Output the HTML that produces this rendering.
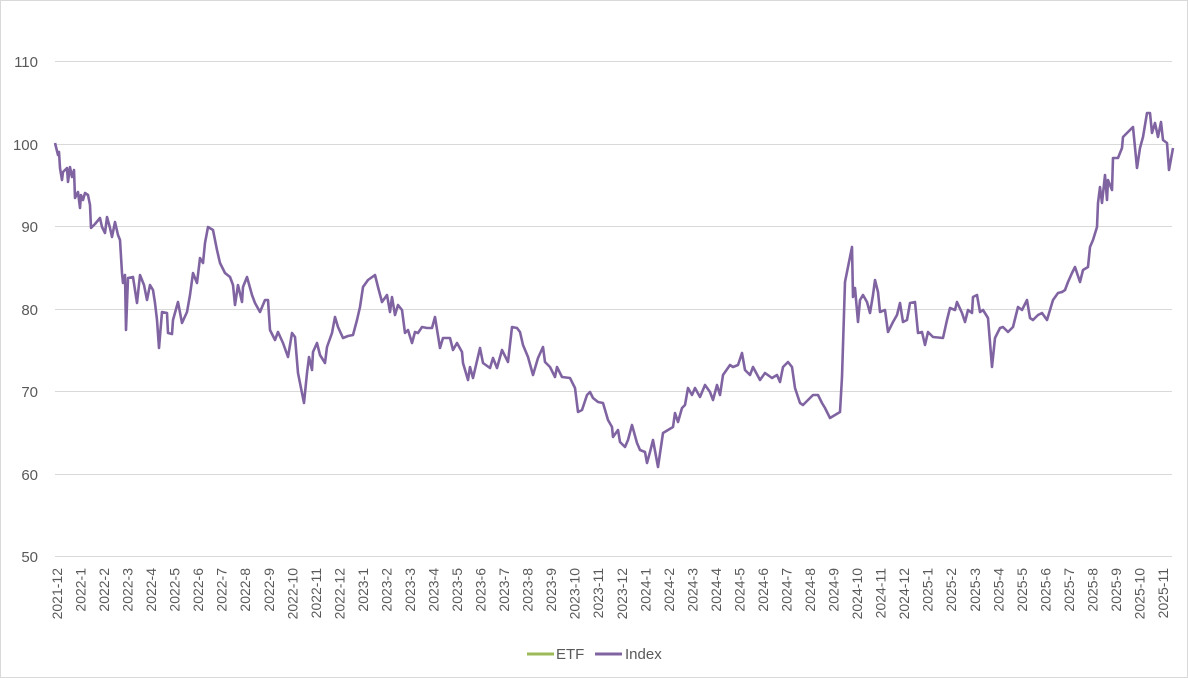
<!DOCTYPE html>
<html><head><meta charset="utf-8"><style>
html,body{margin:0;padding:0;background:#fff;}
svg{display:block;font-family:"Liberation Sans",sans-serif;}
</style></head><body>
<svg width="1188" height="678" viewBox="0 0 1188 678" xmlns="http://www.w3.org/2000/svg">
<rect x="0.5" y="0.5" width="1187" height="677" fill="#fff" stroke="#d9d9d9"/>
<g stroke="#d9d9d9" stroke-width="1">
<line x1="55" x2="1172" y1="61.5" y2="61.5"/>
<line x1="55" x2="1172" y1="144.5" y2="144.5"/>
<line x1="55" x2="1172" y1="226.5" y2="226.5"/>
<line x1="55" x2="1172" y1="309.5" y2="309.5"/>
<line x1="55" x2="1172" y1="391.5" y2="391.5"/>
<line x1="55" x2="1172" y1="474.5" y2="474.5"/>
<line x1="55" x2="1172" y1="556.5" y2="556.5"/>
</g>
<g fill="#595959" font-size="15" text-anchor="end">
<text x="38" y="67">110</text>
<text x="38" y="150">100</text>
<text x="38" y="232">90</text>
<text x="38" y="315">80</text>
<text x="38" y="397">70</text>
<text x="38" y="480">60</text>
<text x="38" y="562">50</text>
</g>
<g fill="#595959" font-size="14" text-anchor="end">
<text transform="translate(62,568) rotate(-90)">2021-12</text>
<text transform="translate(85.5,568) rotate(-90)">2022-1</text>
<text transform="translate(109,568) rotate(-90)">2022-2</text>
<text transform="translate(132.6,568) rotate(-90)">2022-3</text>
<text transform="translate(156.1,568) rotate(-90)">2022-4</text>
<text transform="translate(179.7,568) rotate(-90)">2022-5</text>
<text transform="translate(203.2,568) rotate(-90)">2022-6</text>
<text transform="translate(226.7,568) rotate(-90)">2022-7</text>
<text transform="translate(250.2,568) rotate(-90)">2022-8</text>
<text transform="translate(273.8,568) rotate(-90)">2022-9</text>
<text transform="translate(297.3,568) rotate(-90)">2022-10</text>
<text transform="translate(320.8,568) rotate(-90)">2022-11</text>
<text transform="translate(344.4,568) rotate(-90)">2022-12</text>
<text transform="translate(367.9,568) rotate(-90)">2023-1</text>
<text transform="translate(391.4,568) rotate(-90)">2023-2</text>
<text transform="translate(415,568) rotate(-90)">2023-3</text>
<text transform="translate(438.5,568) rotate(-90)">2023-4</text>
<text transform="translate(462,568) rotate(-90)">2023-5</text>
<text transform="translate(485.6,568) rotate(-90)">2023-6</text>
<text transform="translate(509.1,568) rotate(-90)">2023-7</text>
<text transform="translate(532.6,568) rotate(-90)">2023-8</text>
<text transform="translate(556.2,568) rotate(-90)">2023-9</text>
<text transform="translate(579.7,568) rotate(-90)">2023-10</text>
<text transform="translate(603.2,568) rotate(-90)">2023-11</text>
<text transform="translate(626.8,568) rotate(-90)">2023-12</text>
<text transform="translate(650.3,568) rotate(-90)">2024-1</text>
<text transform="translate(673.8,568) rotate(-90)">2024-2</text>
<text transform="translate(697.4,568) rotate(-90)">2024-3</text>
<text transform="translate(720.9,568) rotate(-90)">2024-4</text>
<text transform="translate(744.4,568) rotate(-90)">2024-5</text>
<text transform="translate(768,568) rotate(-90)">2024-6</text>
<text transform="translate(791.5,568) rotate(-90)">2024-7</text>
<text transform="translate(815,568) rotate(-90)">2024-8</text>
<text transform="translate(838.6,568) rotate(-90)">2024-9</text>
<text transform="translate(862.1,568) rotate(-90)">2024-10</text>
<text transform="translate(885.6,568) rotate(-90)">2024-11</text>
<text transform="translate(909.2,568) rotate(-90)">2024-12</text>
<text transform="translate(932.7,568) rotate(-90)">2025-1</text>
<text transform="translate(956.2,568) rotate(-90)">2025-2</text>
<text transform="translate(979.8,568) rotate(-90)">2025-3</text>
<text transform="translate(1003.3,568) rotate(-90)">2025-4</text>
<text transform="translate(1026.8,568) rotate(-90)">2025-5</text>
<text transform="translate(1050.4,568) rotate(-90)">2025-6</text>
<text transform="translate(1073.9,568) rotate(-90)">2025-7</text>
<text transform="translate(1097.4,568) rotate(-90)">2025-8</text>
<text transform="translate(1121,568) rotate(-90)">2025-9</text>
<text transform="translate(1144.5,568) rotate(-90)">2025-10</text>
<text transform="translate(1168,568) rotate(-90)">2025-11</text>
</g>
<polyline fill="none" stroke="#8064A2" stroke-width="2.6" stroke-linejoin="round" points="55,143 58,155 59,152 60,168 62,180 63,172 65,170 67,168 68,182 70,167 72,177 74,170 75,198 78,192 80,208 81,195 83,200 85,193 88,195 90,205 91,228 95,224 100,218 102,227 105,233 107,217 110,228 112,237 115,222 118,235 120,240 122,273 123,283 125,275 126,330 128,278 133,277 135,290 137,303 140,275 144,285 147,300 150,285 153,290 155,303 157,320 159,348 162,312 167,313 168,333 172,334 173,320 178,302 182,323 187,312 190,295 193,273 197,283 200,258 203,263 205,243 208,227 213,230 217,250 220,263 225,273 230,277 233,285 235,305 238,285 242,302 243,287 247,277 252,295 255,303 260,312 265,300 268,300 270,330 275,340 278,332 283,343 288,357 292,333 295,337 298,373 302,393 304,403 307,373 309,357 312,370 313,352 317,343 320,355 325,363 327,347 332,333 335,317 338,327 343,338 348,336 353,335 357,320 360,307 363,287 368,280 375,275 378,287 382,302 387,295 390,312 392,297 395,315 398,305 402,310 405,333 408,330 412,343 415,332 418,333 422,327 427,328 432,328 435,317 440,348 443,338 450,338 453,350 457,343 462,352 463,363 468,380 470,367 473,378 480,348 483,363 490,368 493,358 497,368 502,350 508,362 512,327 517,328 520,332 523,345 528,357 533,375 538,358 543,347 545,362 550,367 555,377 557,367 562,377 570,378 575,388 578,412 582,410 587,395 590,392 593,398 598,402 603,403 608,420 612,427 613,437 618,430 620,442 625,447 628,440 632,425 637,443 640,450 645,452 647,463 650,452 653,440 658,467 663,433 673,427 675,413 678,422 682,408 685,405 688,388 692,395 695,388 700,397 705,385 710,392 713,400 717,385 720,395 723,375 730,365 733,367 738,365 742,353 745,370 750,375 753,367 760,380 765,373 772,378 777,375 780,382 783,367 788,362 792,367 795,388 800,403 803,405 810,398 813,395 818,395 822,403 825,408 830,418 840,412 842,377 845,282 852,247 853,297 855,288 858,322 860,300 863,295 867,302 870,313 873,295 875,280 878,292 880,312 885,310 888,332 893,322 897,315 900,303 903,322 907,320 910,303 915,302 918,333 922,332 925,345 928,332 933,337 943,338 947,320 950,308 955,310 957,302 962,313 965,322 968,310 972,313 973,297 977,295 980,312 983,310 988,318 992,367 995,338 1000,328 1003,327 1008,332 1013,327 1018,307 1022,310 1027,300 1030,318 1033,320 1038,315 1042,313 1047,320 1050,310 1053,300 1058,293 1062,292 1065,290 1068,282 1072,273 1075,267 1080,282 1083,270 1088,267 1090,247 1093,240 1097,227 1098,203 1100,187 1102,203 1105,175 1107,200 1108,180 1112,190 1113,158 1118,158 1122,148 1123,137 1133,127 1137,168 1140,148 1143,137 1147,113 1150,113 1152,133 1155,123 1158,137 1161,122 1163,140 1167,143 1169,170 1173,148"/>
<line x1="527" y1="654" x2="554" y2="654" stroke="#9BBB59" stroke-width="3"/>
<line x1="595" y1="654" x2="622" y2="654" stroke="#8064A2" stroke-width="3"/>
<g fill="#595959" font-size="15">
<text x="556" y="659">ETF</text>
<text x="625" y="659">Index</text>
</g>
</svg>
</body></html>
